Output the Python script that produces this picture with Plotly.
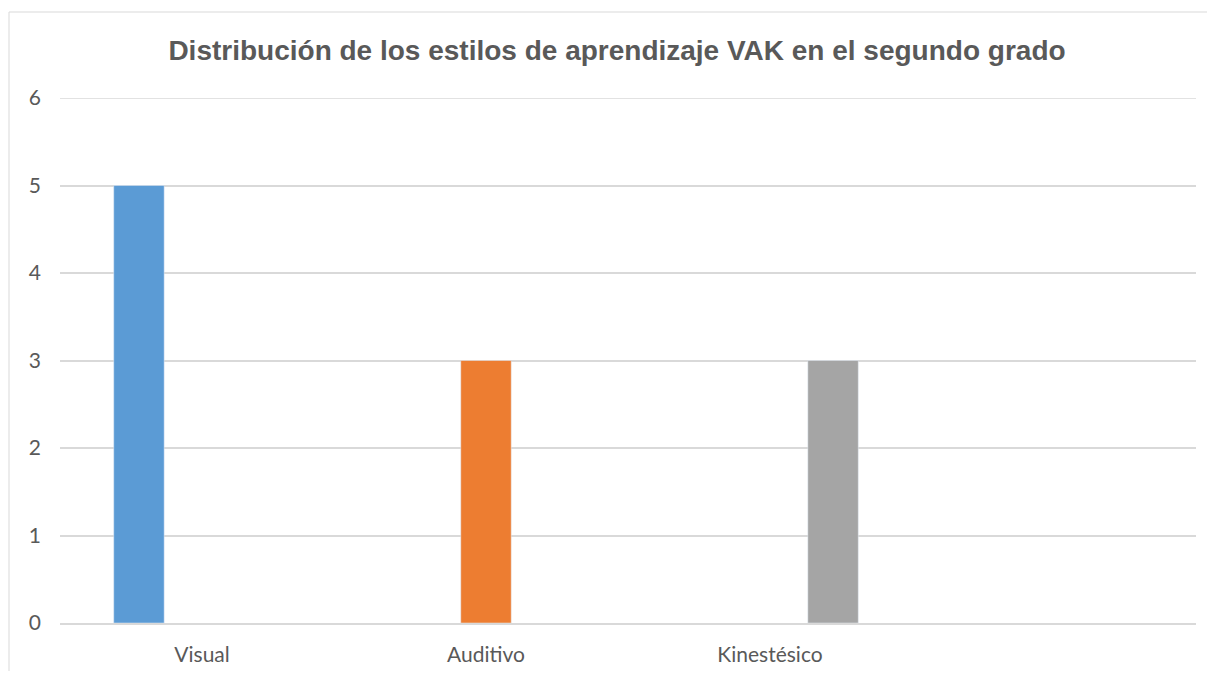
import plotly.graph_objects as go

categories = ["Visual", "Auditivo", "Kinestésico", " "]
visual = [5, None, None, None]
auditivo = [None, 3, None, None]
kinestesico = [None, None, 3, None]
y_ticks = [0, 1, 2, 3, 4, 5, 6]

title_text = "Distribución de los estilos de aprendizaje VAK en el segundo grado"

fig = go.Figure()
fig.add_trace(go.Bar(x=categories, y=visual, name="Visual", marker_color="#5B9BD5"))
fig.add_trace(go.Bar(x=categories, y=auditivo, name="Auditivo", marker_color="#ED7D31"))
fig.add_trace(go.Bar(x=categories, y=kinestesico, name="Kinestésico", marker_color="#A5A5A5"))

# page body has an 8px margin; figure coordinates = screen - 8
OFF = 8
W, H = 1215 - 2 * OFF, 679 - 2 * OFF
L, T = 60 - OFF, 98 - OFF
R = W - (1196 - OFF)
B = H - (623 - OFF)
pw, ph = W - L - R, H - T - B

def px(x):
    return (x - OFF - L) / pw

def py(y):
    return (H - B - (y - OFF)) / ph

fig.update_layout(
    width=W, height=H,
    margin=dict(l=L, r=R, t=T, b=B, autoexpand=False),
    paper_bgcolor="white", plot_bgcolor="white",
    barmode="group", bargap=0.334, bargroupgap=0.2,
    showlegend=False,
    title=dict(text="<b>" + title_text + "</b>", x=(617 - OFF) / W, xref="container", xanchor="center",
               y=1 - (50 - OFF) / H, yref="container", yanchor="middle",
               font=dict(family="Liberation Sans, Arial", size=28, color="#595959")),
    font=dict(family="Lato, Open Sans", color="#595959"),
    xaxis=dict(type="category", categoryorder="array", categoryarray=categories,
               showgrid=False, showline=True, linecolor="#D9D9D9", linewidth=1.5,
               ticks="", tickfont=dict(size=21, color="#595959"), ticklabelstandoff=12,
               zeroline=False, automargin=False),
    yaxis=dict(range=[0, 6], tickvals=y_ticks, showgrid=True, gridcolor="#D9D9D9", gridwidth=1.5,
               zeroline=False, showline=False, ticks="", automargin=False,
               tickfont=dict(size=21, color="#595959"), ticklabelstandoff=18),
    shapes=[
        dict(type="rect", xref="paper", yref="paper",
             x0=px(9), x1=px(1260), y0=py(720), y1=py(12),
             line=dict(color="#D9D9D9", width=1), fillcolor="rgba(0,0,0,0)", layer="below"),
        dict(type="line", xref="paper", yref="y", x0=0, x1=1, y0=y_ticks[-1], y1=y_ticks[-1],
             line=dict(color="#D9D9D9", width=1.5), layer="below"),
    ],
)

fig.write_html("out.html")
